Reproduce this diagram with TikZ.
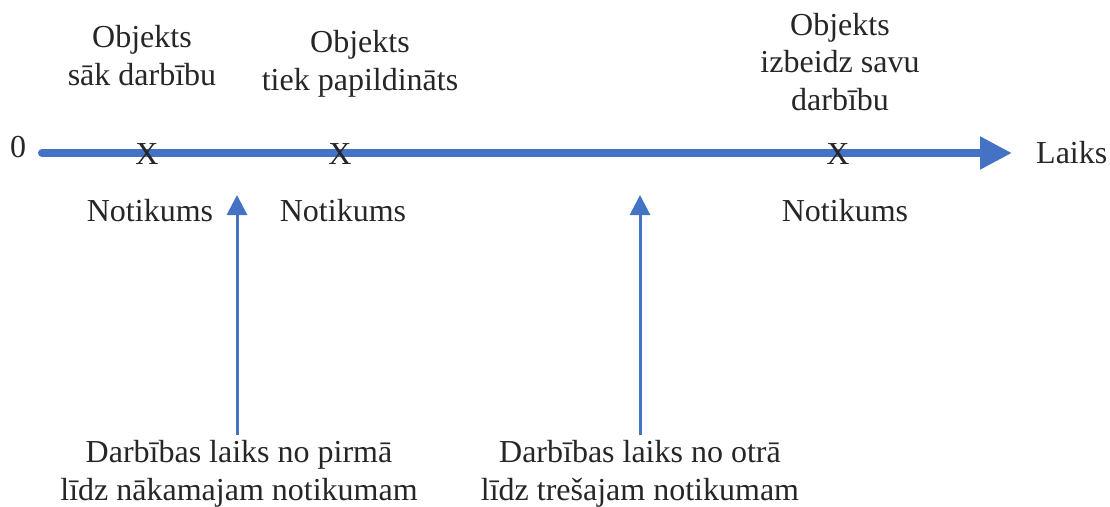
\documentclass[tikz,border=0pt]{standalone}
\usepackage{fontspec}
\setmainfont{Liberation Serif}
\usetikzlibrary{arrows.meta}
\definecolor{axisblue}{HTML}{4472C4}
\tikzset{
  lbl/.style={font=\fontsize{32}{37.5}\selectfont, inner sep=0pt, align=center, anchor=base, text=black!85},
  eventx/.style={font=\fontsize{32}{37.5}\selectfont, inner sep=0pt, anchor=center, text=black!85},
  timeline/.style={draw=axisblue, line width=8pt, line cap=round,
    -{Triangle[length=32pt,width=31pt]}},
  pointer/.style={draw=axisblue, line width=3pt,
    -{Triangle[length=20pt,width=20pt]}}
}
\begin{document}
\begin{tikzpicture}[x=1pt,y=-1pt]
  \useasboundingbox (0,0) rectangle (1110,506);

  % time axis
  \coordinate (start) at (42,153);
  \coordinate (finish) at (1012,153);
  \draw[timeline] (start) -- (finish);
  \node[lbl] (zero) at (18,157) {0};
  \node[lbl, anchor=base west] (laiks) at (1036,163) {Laiks};

  % events on the axis
  \node[eventx] (e1) at (147,154) {X};
  \node[eventx] (e2) at (340,154) {X};
  \node[eventx] (e3) at (838,154) {X};

  % descriptions above the axis (anchored at the last baseline)
  \node[lbl] (d1) at (142,85) {Objekts\\sāk darbību};
  \node[lbl] (d2) at (360,90) {Objekts\\tiek papildināts};
  \node[lbl] (d3) at (840,110) {Objekts\\izbeidz savu\\darbību};

  % event labels below the axis
  \node[lbl] (n1) at (150,221) {Notikums};
  \node[lbl] (n2) at (343,221) {Notikums};
  \node[lbl] (n3) at (845,221) {Notikums};

  % durations between events
  \node[lbl] (t1) at (239,500) {Darbības laiks no pirmā\\līdz nākamajam notikumam};
  \node[lbl] (t2) at (640,500) {Darbības laiks no otrā\\līdz trešajam notikumam};

  \coordinate (p1) at (237,195);
  \coordinate (p2) at (640,195);
  \draw[pointer] (t1.north -| p1) ++(0,-5) -- (p1);
  \draw[pointer] (t2.north -| p2) ++(0,-5) -- (p2);
\end{tikzpicture}
\end{document}
